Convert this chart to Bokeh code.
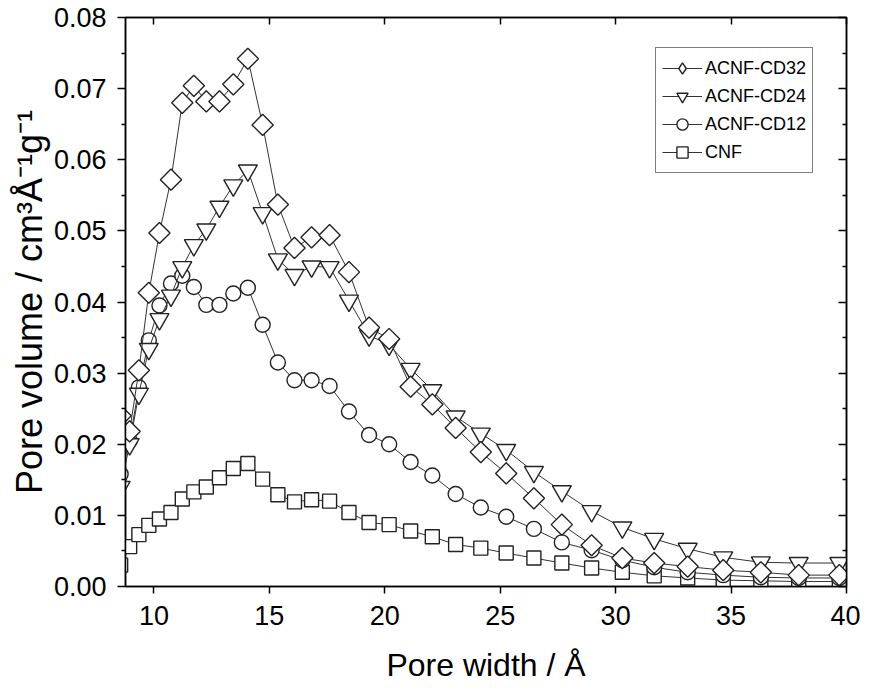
import numpy as np
from bokeh.plotting import figure
from bokeh.models import (LinearAxis, FixedTicker, Range1d, Legend, LegendItem,
                          NumeralTickFormatter)
from bokeh.embed import file_html
from bokeh.resources import INLINE

# ---- data ----
pore_width = [8.56, 8.95, 9.35, 9.78, 10.24, 10.74, 11.23, 11.73, 12.27, 12.84,
              13.44, 14.07, 14.71, 15.37, 16.09, 16.83, 17.61, 18.45, 19.32, 20.19,
              21.12, 22.06, 23.07, 24.16, 25.26, 26.46, 27.67, 28.96, 30.29, 31.67,
              33.12, 34.66, 36.29, 37.93, 39.69]

acnf_cd32 = [0.0240, 0.0218, 0.0304, 0.0413, 0.0497, 0.0572, 0.0680, 0.0704, 0.0682, 0.0682,
             0.0706, 0.0742, 0.0649, 0.0537, 0.0476, 0.0491, 0.0494, 0.0442, 0.0364, 0.0348,
             0.0281, 0.0256, 0.0223, 0.0189, 0.0159, 0.0124, 0.0087, 0.0058, 0.0040, 0.0033,
             0.0028, 0.0023, 0.0020, 0.0016, 0.0016]

acnf_cd24 = [0.0140, 0.0200, 0.0271, 0.0334, 0.0376, 0.0409, 0.0449, 0.0480, 0.0502, 0.0534,
             0.0564, 0.0585, 0.0525, 0.0460, 0.0438, 0.0450, 0.0449, 0.0402, 0.0353, 0.0340,
             0.0306, 0.0276, 0.0239, 0.0215, 0.0192, 0.0161, 0.0134, 0.0106, 0.0083, 0.0067,
             0.0053, 0.0041, 0.0034, 0.0033, 0.0033]

acnf_cd12 = [0.0158, 0.0205, 0.0280, 0.0346, 0.0395, 0.0426, 0.0437, 0.0421, 0.0396, 0.0396,
             0.0412, 0.0420, 0.0368, 0.0315, 0.0290, 0.0290, 0.0282, 0.0246, 0.0213, 0.0200,
             0.0175, 0.0156, 0.0130, 0.0111, 0.0098, 0.0081, 0.0062, 0.0051, 0.0037, 0.0027,
             0.0020, 0.0016, 0.0013, 0.0012, 0.0012]

cnf = [0.0030, 0.0056, 0.0073, 0.0086, 0.0095, 0.0104, 0.0123, 0.0133, 0.0140, 0.0153,
       0.0166, 0.0173, 0.0151, 0.0129, 0.0119, 0.0122, 0.0120, 0.0104, 0.0090, 0.0087,
       0.0078, 0.0070, 0.0059, 0.0054, 0.0047, 0.0040, 0.0033, 0.0026, 0.0020, 0.0015,
       0.0012, 0.0009, 0.0008, 0.0007, 0.0007]

x_ticks = [10, 15, 20, 25, 30, 35, 40]
y_ticks = [0.00, 0.01, 0.02, 0.03, 0.04, 0.05, 0.06, 0.07, 0.08]
y_minor = [0.005, 0.015, 0.025, 0.035, 0.045, 0.055, 0.065, 0.075]

x_title = "Pore width / Å"
y_title = "Pore volume / cm³Å⁻¹g⁻¹"

FONT = "Liberation Sans"
FRAME_W = 721
FRAME_H = 569

p = figure(width=125 + FRAME_W + 14, height=17 + FRAME_H + 101,
           output_backend="svg", toolbar_location=None,
           x_range=Range1d(8.77, 40), y_range=Range1d(0, 0.08),
           min_border_left=125, min_border_right=14, min_border_top=17,
           min_border_bottom=101)
p.grid.visible = False
p.outline_line_color = "black"
p.outline_line_width = 1.5
p.background_fill_color = "white"
p.border_fill_color = "white"

xa = p.xaxis[0]
xa.ticker = FixedTicker(ticks=x_ticks, minor_ticks=[])
xa.axis_label = x_title
ya = p.yaxis[0]
ya.ticker = FixedTicker(ticks=y_ticks, minor_ticks=y_minor)
ya.formatter = NumeralTickFormatter(format="0.00")
ya.axis_label = y_title

for ax in (xa, ya):
    ax.axis_line_color = "black"
    ax.axis_line_width = 1.5
    ax.major_tick_line_color = "black"
    ax.major_tick_line_width = 1.5
    ax.minor_tick_line_color = "black"
    ax.minor_tick_line_width = 1.5
    ax.major_tick_in = 0
    ax.minor_tick_in = 0
    ax.major_label_text_font = FONT
    ax.major_label_text_font_size = "27px"
    ax.major_label_text_color = "black"
    ax.major_label_text_line_height = 1.0
    ax.axis_label_text_font = FONT
    ax.axis_label_text_font_style = "normal"
    ax.axis_label_text_color = "black"
    ax.axis_label_text_line_height = 1.0

xa.axis_label_text_font_size = "32px"
ya.axis_label_text_font_size = "36px"
xa.major_tick_out = 7
xa.major_label_standoff = 12
xa.axis_label_standoff = 19
ya.major_tick_out = 8
ya.minor_tick_out = 4
ya.major_label_standoff = 11
ya.axis_label_standoff = 1

# mirrored top / right axes with inward ticks, no labels
top = LinearAxis(ticker=FixedTicker(ticks=x_ticks, minor_ticks=[]),
                 major_tick_in=7, major_tick_out=0, minor_tick_in=0, minor_tick_out=0,
                 major_label_text_font_size="0px", major_label_text_color=None,
                 major_label_standoff=0, axis_line_width=1.5,
                 major_tick_line_width=1.5)
right = LinearAxis(ticker=FixedTicker(ticks=y_ticks, minor_ticks=y_minor),
                   major_tick_in=8, major_tick_out=0, minor_tick_in=4, minor_tick_out=0,
                   major_label_text_font_size="0px", major_label_text_color=None,
                   major_label_standoff=0, axis_line_width=1.5,
                   major_tick_line_width=1.5, minor_tick_line_width=1.5,
                   minor_tick_line_color="black")
p.add_layout(top, "above")
p.add_layout(right, "right")

LINE = "#333333"
EDGE = "#222222"
series = [
    ("CNF", cnf, "square", 14, 0.0),
    ("ACNF-CD12", acnf_cd12, "circle", 15, 0.0),
    ("ACNF-CD24", acnf_cd24, "inverted_triangle", 19, 0.0),
    ("ACNF-CD32", acnf_cd32, "square", 15, np.pi / 4),
]
items = {}
for name, ys, marker, size, angle in series:
    lr = p.line(pore_width, ys, line_color=LINE, line_width=1)
    rends = [lr]
    if angle:
        # narrow diamond, hidden under the rotated squares, gives the legend its diamond
        dr = p.scatter(pore_width, ys, marker="diamond", size=13,
                       line_color=EDGE, line_width=1.4, fill_color="white")
        rends.append(dr)
    sr = p.scatter(pore_width, ys, marker=marker, size=size, angle=angle,
                   line_color=EDGE, line_width=1.4, fill_color="white")
    if not angle:
        rends.append(sr)
    items[name] = LegendItem(label=name, renderers=rends)

legend = Legend(items=[items["ACNF-CD32"], items["ACNF-CD24"], items["ACNF-CD12"], items["CNF"]],
                location=(530, 413))
legend.label_text_font = FONT
legend.label_text_font_size = "18px"
legend.label_text_color = "black"
legend.glyph_width = 40
legend.glyph_height = 28
legend.label_height = 28
legend.label_standoff = 3
legend.spacing = 0
legend.padding = 6
legend.margin = 0
legend.border_line_color = "black"
legend.border_line_width = 1.2
legend.background_fill_color = "white"
legend.background_fill_alpha = 1.0
p.add_layout(legend, "center")

open("out.html", "w").write(file_html(p, INLINE))
